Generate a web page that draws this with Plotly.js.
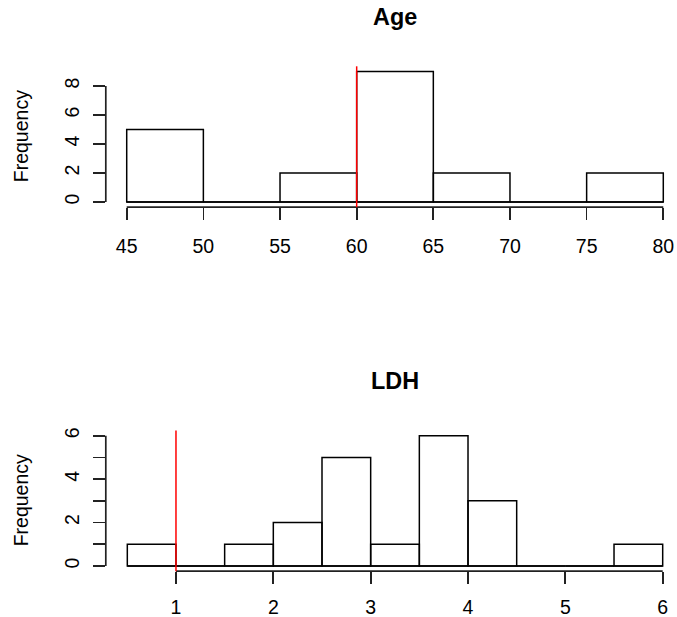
<!DOCTYPE html>
<html>
<head>
<meta charset="utf-8">
<script src="https://cdn.plot.ly/plotly-3.0.1.min.js"></script>
<style>
html,body{margin:0;padding:0;background:#fff;overflow:hidden;}
#chart{width:677px;height:617px;}
</style>
</head>
<body>
<div id="chart"></div>
<script>
// ---- data ----
const ageEdges = [45, 50, 55, 60, 65, 70, 75, 80];
const ageCounts = [5, 0, 2, 9, 2, 0, 2];
const ageTicksX = [45, 50, 55, 60, 65, 70, 75, 80];
const ageTicksY = [0, 2, 4, 6, 8];
const ageTickTextY = ['0', '2', '4', '6', '8'];
const ageCutoff = [60];

const ldhEdges = [0.5, 1, 1.5, 2, 2.5, 3, 3.5, 4, 4.5, 5, 5.5, 6];
const ldhCounts = [1, 0, 1, 2, 5, 1, 6, 3, 0, 0, 1];
const ldhTicksX = [1, 2, 3, 4, 5, 6];
const ldhTicksY = [0, 1, 2, 3, 4, 5, 6];
const ldhTickTextY = ['0', '', '2', '', '4', '', '6'];
const ldhCutoff = [1];

const titles = ['Age', 'LDH'];
const yLabel = 'Frequency';

// ---- helpers ----
function mids(e){ return e.slice(0,-1).map((v,i)=>(v+e[i+1])/2); }
function widths(e){ return e.slice(0,-1).map((v,i)=>e[i+1]-v); }

const FONT = 'Liberation Sans, Arial, Helvetica, sans-serif';
const LW = 1.5;
const AX = '#222';
const W = 677, H = 617;

function histTrace(edges, counts, xa, ya){
  return {
    type: 'bar',
    x: mids(edges), y: counts, width: widths(edges),
    xaxis: xa, yaxis: ya,
    marker: {color: 'rgba(0,0,0,0)', line: {color: '#000', width: LW}},
    hoverinfo: 'x+y', showlegend: false
  };
}

const data = [
  histTrace(ageEdges, ageCounts, 'x', 'y'),
  histTrace(ldhEdges, ldhCounts, 'x2', 'y2')
];

const xDomain = [105.8 / W, 1];
function yDom(topPx, botPx){ return [1 - botPx / H, 1 - topPx / H]; }

const axisCommon = {
  showgrid: false, zeroline: false, showline: false,
  ticks: 'outside', ticklen: 12, tickwidth: 1.7, tickcolor: AX,
  tickfont: {family: FONT, size: 19.5, color: '#000'},
  tickmode: 'array', fixedrange: true
};

function shapesFor(xref, yref, edges, ticksX, ticksY, cutoff){
  const xd = xref + ' domain', yd = yref + ' domain';
  return [
    // baseline of histogram (bar bottoms)
    {type:'line', xref:xref, yref:yref, x0:edges[0], x1:edges[edges.length-1], y0:0, y1:0,
     line:{color:'#000', width:LW}},
    // x axis line from first to last tick
    {type:'line', xref:xref, yref:yd, x0:ticksX[0], x1:ticksX[ticksX.length-1], y0:0, y1:0,
     line:{color:AX, width:1.7}},
    // y axis line from first to last tick
    {type:'line', xref:xd, yref:yref, x0:0, x1:0, y0:ticksY[0], y1:ticksY[ticksY.length-1],
     line:{color:AX, width:1.7}},
    // red reference line
    {type:'line', xref:xref, yref:yd, x0:cutoff[0], x1:cutoff[0], y0:0, y1:1,
     line:{color:'#ff0000', width:LW}}
  ];
}

const topDom = yDom(66.3, 207.2);
const botDom = yDom(430.5, 571.2);

const layout = {
  width: W, height: H,
  margin: {l:0, r:0, t:0, b:0, pad:0},
  paper_bgcolor: '#fff', plot_bgcolor: '#fff',
  showlegend: false, bargap: 0,
  xaxis: Object.assign({}, axisCommon, {
    domain: xDomain, range: [43.636, 80.894], anchor: 'y',
    tickvals: ageTicksX, ticktext: ageTicksX.map(String), ticklabelstandoff: 9
  }),
  yaxis: Object.assign({}, axisCommon, {
    domain: topDom, range: [-0.36, 9.36], anchor: 'x',
    tickvals: ageTicksY, ticktext: ageTickTextY, tickangle: -90, ticklabelstandoff: 6
  }),
  xaxis2: Object.assign({}, axisCommon, {
    domain: xDomain, range: [0.279, 6.147], anchor: 'y2',
    tickvals: ldhTicksX, ticktext: ldhTicksX.map(String), ticklabelstandoff: 6
  }),
  yaxis2: Object.assign({}, axisCommon, {
    domain: botDom, range: [-0.24, 6.24], anchor: 'x2',
    tickvals: ldhTicksY, ticktext: ldhTickTextY, tickangle: -90, ticklabelstandoff: 6
  }),
  shapes: [].concat(
    shapesFor('x', 'y', ageEdges, ageTicksX, ageTicksY, ageCutoff),
    shapesFor('x2', 'y2', ldhEdges, ldhTicksX, ldhTicksY, ldhCutoff)
  ),
  annotations: [
    {text: '<b>' + titles[0] + '</b>', xref:'paper', yref:'paper', x: 395/W, y: 1 - 17/H,
     xanchor:'center', yanchor:'middle', showarrow:false,
     font:{family:FONT, size:23.4, color:'#000'}},
    {text: '<b>' + titles[1] + '</b>', xref:'paper', yref:'paper', x: 395/W, y: 1 - 381/H,
     xanchor:'center', yanchor:'middle', showarrow:false,
     font:{family:FONT, size:23.4, color:'#000'}},
    {text: yLabel, xref:'paper', yref:'paper', x: 20.5/W, y: (topDom[0]+topDom[1])/2,
     xanchor:'center', yanchor:'middle', textangle:-90, showarrow:false,
     font:{family:FONT, size:19.5, color:'#000'}},
    {text: yLabel, xref:'paper', yref:'paper', x: 20.5/W, y: (botDom[0]+botDom[1])/2,
     xanchor:'center', yanchor:'middle', textangle:-90, showarrow:false,
     font:{family:FONT, size:19.5, color:'#000'}}
  ]
};

Plotly.newPlot('chart', data, layout, {displayModeBar:false, staticPlot:true});
</script>
</body>
</html>
